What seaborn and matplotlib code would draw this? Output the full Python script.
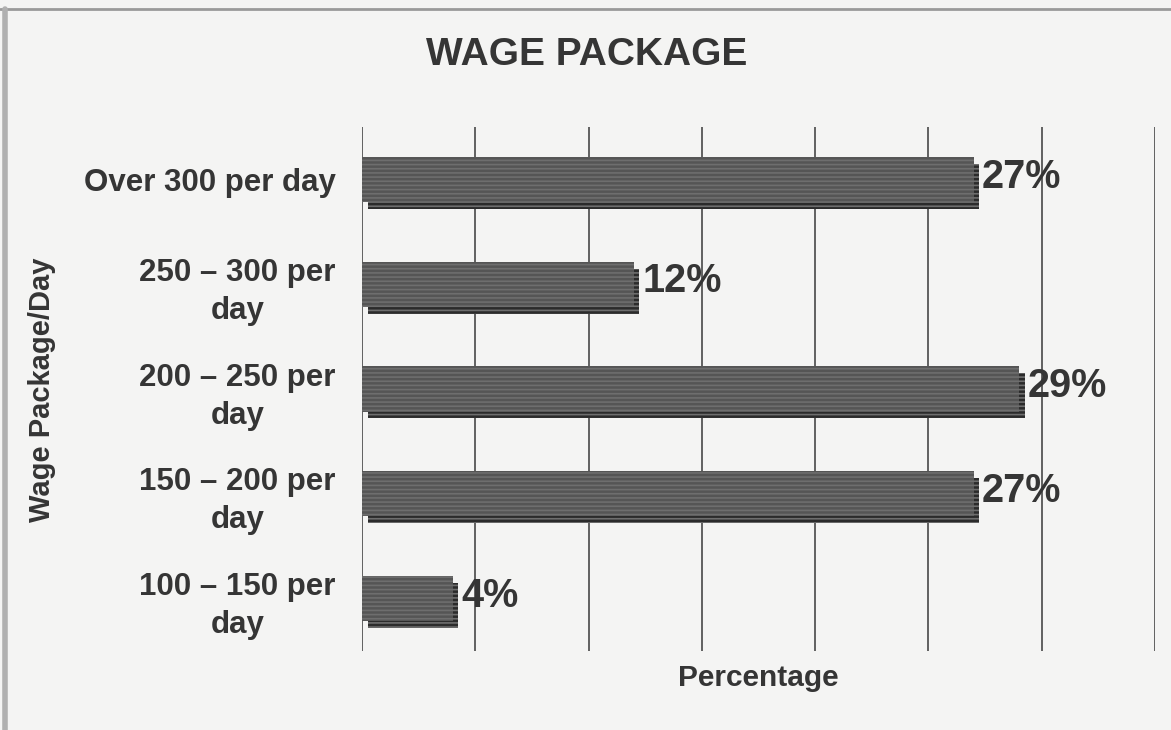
import matplotlib
matplotlib.use('Agg')
import matplotlib.pyplot as plt
import matplotlib.patheffects as pe
from matplotlib.lines import Line2D
import pandas as pd
import seaborn as sns

# data (top to bottom)
categories = ['Over 300 per day', '250 – 300 per\nday', '200 – 250 per\nday',
              '150 – 200 per\nday', '100 – 150 per\nday']
percentages = [27, 12, 29, 27, 4]
value_labels = ['27%', '12%', '29%', '27%', '4%']

df = pd.DataFrame({'wage': categories, 'pct': percentages})

sns.set_style('white')
plt.rcParams['font.family'] = ['Liberation Sans', 'DejaVu Sans']
plt.rcParams['hatch.color'] = '#727272'
plt.rcParams['hatch.linewidth'] = 1.2

TEXT = '#353535'
BG = '#f4f4f3'

fig = plt.figure(figsize=(11.71, 7.30), dpi=100, facecolor=BG)
ax = fig.add_axes([0.3091, 0.1082, 0.6772, 0.7178])
ax.set_facecolor(BG)

sns.barplot(data=df, x='pct', y='wage', order=categories, orient='h',
            color='#555555', width=0.43, saturation=1, ax=ax)

# streaky fill plus a dark drop shadow, like the scanned bars
for bar in ax.patches:
    bar.set_hatch('----')
    bar.set_edgecolor('#6e6e6e')
    bar.set_linewidth(0)
    bar.set_path_effects([
        pe.SimplePatchShadow(offset=(4, -5), shadow_rgbFace='#2b2b2b', alpha=1.0),
        pe.Normal(),
    ])

for bar, lab in zip(ax.patches, value_labels):
    ax.annotate(lab, xy=(bar.get_width(), bar.get_y() + bar.get_height() / 2),
                xytext=(6, 2), textcoords='offset points', ha='left', va='center',
                fontsize=28.5, fontweight='bold', color=TEXT)

ax.set_xlim(0, 35)
ax.set_ylim(4.5, -0.5)
ax.set_xticks(range(0, 36, 5))
ax.set_xticklabels([])
ax.xaxis.grid(True, color='#555555', linewidth=1.3)
ax.set_axisbelow(True)
for s in ax.spines.values():
    s.set_visible(False)
ax.tick_params(axis='both', length=0)
ax.tick_params(axis='y', pad=19)
for t in ax.get_yticklabels():
    t.set_fontsize(22.5)
    t.set_fontweight('bold')
    t.set_color(TEXT)
    t.set_multialignment('center')
    t.set_linespacing(1.35)
ax.set_xlabel('')
ax.set_ylabel('')

fig.text(0.5013, 0.924, 'WAGE PACKAGE', ha='center', va='center',
         fontsize=28, fontweight='bold', color=TEXT)
fig.text(0.648, 0.071, 'Percentage', ha='center', va='center',
         fontsize=21.5, fontweight='bold', color=TEXT)
fig.text(0.036, 0.466, 'Wage Package/Day', ha='center', va='center',
         rotation=90, fontsize=21, fontweight='bold', color=TEXT)

# scan edge lines
fig.add_artist(Line2D([0, 1], [0.988, 0.988], color='#9a9a9a', linewidth=2))
fig.add_artist(Line2D([0.004, 0.004], [0, 0.988], color='#b0b0b0', linewidth=4))

fig.savefig('out.png', dpi=100, facecolor=BG)
